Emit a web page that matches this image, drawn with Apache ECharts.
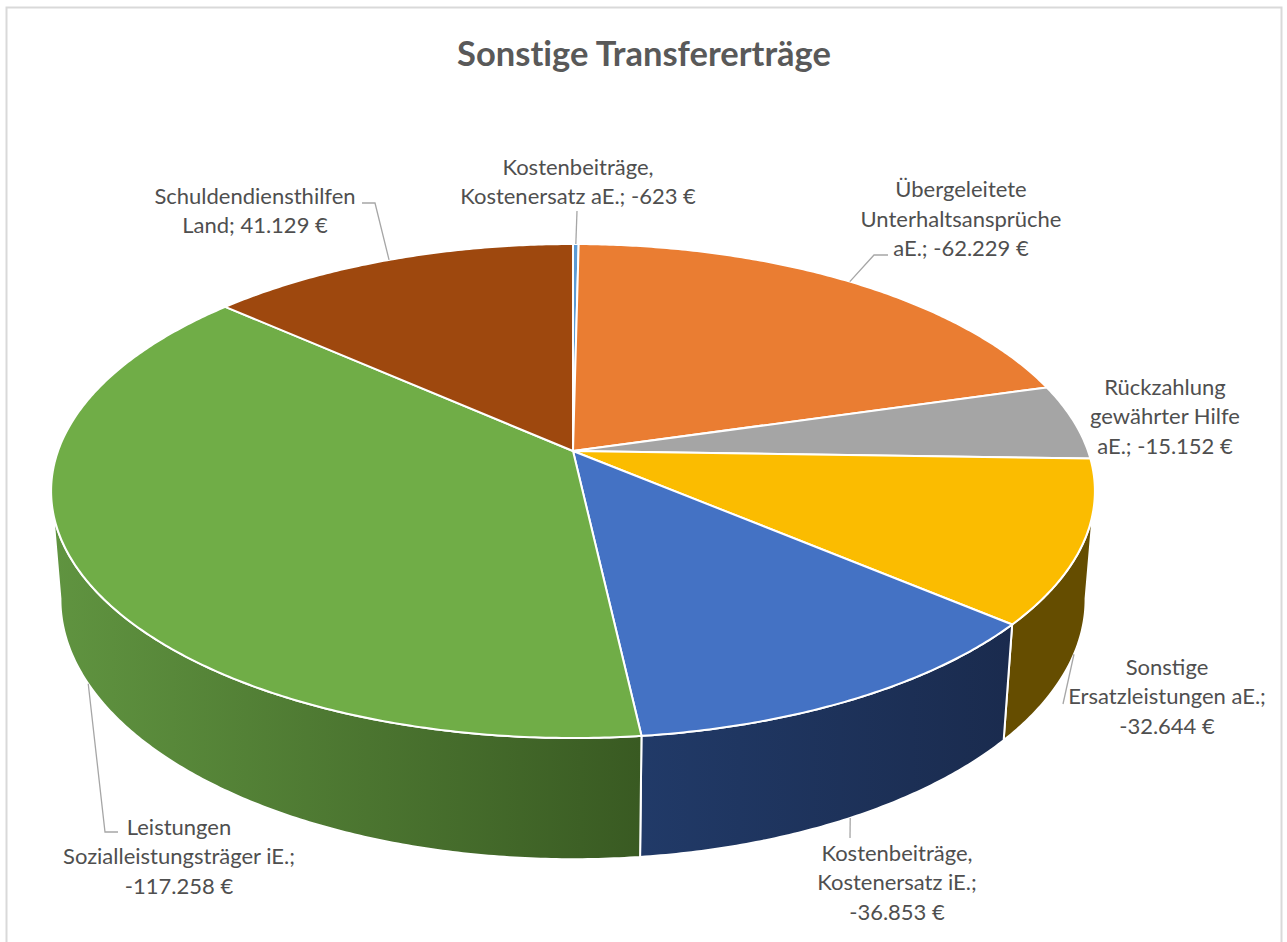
<!DOCTYPE html>
<html>
<head>
<meta charset="utf-8">
<title>Sonstige Transfererträge</title>
<style>html,body{margin:0;padding:0;background:#fff}#c{width:1287px;height:942px}#c text{font-variant-ligatures:none}</style>
<script src="https://cdn.jsdelivr.net/npm/echarts@6/dist/echarts.min.js"></script>
</head>
<body>
<div id="c"></div>
<script>
// ---- data ----
const chartTitle = 'Sonstige Transfererträge';
const categories = [
  ['Kostenbeiträge,', 'Kostenersatz aE.;'],
  ['Übergeleitete', 'Unterhaltsansprüche', 'aE.;'],
  ['Rückzahlung', 'gewährter Hilfe', 'aE.;'],
  ['Sonstige', 'Ersatzleistungen aE.;'],
  ['Kostenbeiträge,', 'Kostenersatz iE.;'],
  ['Leistungen', 'Sozialleistungsträger iE.;'],
  ['Schuldendiensthilfen', 'Land;']
];
const values = [-623, -62229, -15152, -32644, -36853, -117258, 41129];

// ---- styles ----
const topColors = ['#5B9BD5', '#EA7D32', '#A5A5A5', '#FBBC00', '#4472C4', '#70AD47', '#9E480E'];
const wallColors = [
  ['#2E5C85', '#2E5C85'], ['#8A4A1C', '#8A4A1C'], ['#636363', '#636363'],
  ['#654D00', '#654D00'], ['#213A68', '#1A2B4E'], ['#609440', '#395A22'], ['#5C2B08', '#5C2B08']
];
// label block layout: centre x, centre y of the whole block, whether it has a leader
const labelLayout = [
  { x: 578, y: 181, elbow: [[577, 211]] , from: 'top' },
  { x: 961, y: 218, elbow: [[874, 255], [888, 255]], from: 'top' },
  { x: 1165, y: 415.5, elbow: null },
  { x: 1167, y: 695.5, elbow: [[1063, 704]], from: 'bottom' },
  { x: 897, y: 881.5, elbow: [[850, 838]], from: 'bottom' },
  { x: 179, y: 855.5, elbow: [[105, 832], [118, 832]], from: 'bottom' },
  { x: 255, y: 210, elbow: [[375, 203], [362, 203]], from: 'top' }
];

// ---- projection of the disc (perspective view) ----
const view = { cx: 573, cy: 451, a: 515, b: 240.5, k: 0.162, m: 0.0177, c: 108.8, wallFrom: 99, wallTo: 261 };
function project(deg, h) {
  const t = deg * Math.PI / 180, u = Math.sin(t), v = -Math.cos(t);
  const w = 1 - view.k * v + view.m * h;
  return [view.cx + view.a * u / w, view.cy + (view.b * v + view.c * h) / w];
}
function arc(from, to, h) {
  const n = Math.max(2, Math.ceil(Math.abs(to - from) / 0.5)), out = [];
  for (let i = 0; i <= n; i++) out.push(project(from + (to - from) * i / n, h));
  return out;
}

// ---- angles from the values through the running total ----
const total = values.reduce((s, v) => s + Math.abs(v), 0);
const seriesData = [];
values.reduce((acc, v, i) => {
  const next = acc + Math.abs(v);
  seriesData.push({ value: [i, acc / total * 360, next / total * 360] });
  return next;
}, 0);

function fmt(v) {
  const s = String(Math.abs(v)).replace(/\B(?=(\d{3})+$)/g, '.');
  return (v < 0 ? '-' : '') + s + ' €';
}

function renderWall(params, api) {
  const i = api.value(0), s = Math.max(api.value(1), view.wallFrom), e = Math.min(api.value(2), view.wallTo);
  if (e <= s) return { type: 'group', children: [] };
  const pts = arc(s, e, 0).concat(arc(e, s, 1));
  const xs = pts.map(p => p[0]);
  return {
    type: 'polygon', shape: { points: pts },
    style: {
      fill: { type: 'linear', global: true, x: Math.min(...xs), y: 0, x2: Math.max(...xs), y2: 0,
        colorStops: [{ offset: 0, color: wallColors[i][0] }, { offset: 1, color: wallColors[i][1] }] },
      stroke: '#fff', lineWidth: 2, lineJoin: 'round'
    }
  };
}
function renderTop(params, api) {
  const i = api.value(0), pts = [[view.cx, view.cy]].concat(arc(api.value(1), api.value(2), 0));
  return {
    type: 'polygon', shape: { points: pts },
    style: { fill: topColors[i], stroke: '#fff', lineWidth: 2, lineJoin: 'round' }
  };
}
function renderLabel(params, api) {
  const i = api.value(0), L = labelLayout[i], mid = (api.value(1) + api.value(2)) / 2;
  const lines = categories[i].slice();
  const tail = fmt(values[i]);
  // the value joins the last line when it was set that way in the reference
  if (i === 3 || i === 4 || i === 5) lines.push(tail);
  else lines[lines.length - 1] += ' ' + tail;
  const children = [];
  if (L.elbow) {
    const anchor = project(mid, L.from === 'bottom' ? 1 : 0);
    children.push({
      type: 'polyline', shape: { points: [anchor].concat(L.elbow) },
      style: { fill: null, stroke: '#A6A6A6', lineWidth: 1.3 }
    });
  }
  children.push({
    type: 'text',
    style: {
      text: lines.join('\n'), x: L.x, y: L.y, align: 'center', verticalAlign: 'middle',
      fill: '#4F4F4F', font: '400 22px Lato, "Noto Sans", sans-serif', lineHeight: 29.5
    }
  });
  return { type: 'group', children };
}

const chart = echarts.init(document.getElementById('c'), null, { renderer: 'svg' });
chart.setOption({
  animation: false,
  backgroundColor: '#fff',
  title: {
    text: chartTitle, left: 639, top: 30, textAlign: 'center',
    textStyle: { color: '#595959', fontFamily: 'Lato, "Noto Sans", sans-serif', fontWeight: 700, fontSize: 34.5 }
  },
  graphic: [{
    type: 'polyline', silent: true,
    shape: { points: [[6.5, 942], [6.5, 7.5], [1281.5, 7.5], [1281.5, 942]] },
    style: { fill: null, stroke: '#D9D9D9', lineWidth: 2 }
  }],
  series: [
    { type: 'custom', name: 'Seitenwand', coordinateSystem: 'none', renderItem: renderWall, data: seriesData, z: 2, silent: true },
    { type: 'custom', name: chartTitle, coordinateSystem: 'none', renderItem: renderTop, data: seriesData, z: 3, silent: true },
    { type: 'custom', name: 'Beschriftung', coordinateSystem: 'none', renderItem: renderLabel, data: seriesData, z: 4, silent: true }
  ]
});
</script>
</body>
</html>
